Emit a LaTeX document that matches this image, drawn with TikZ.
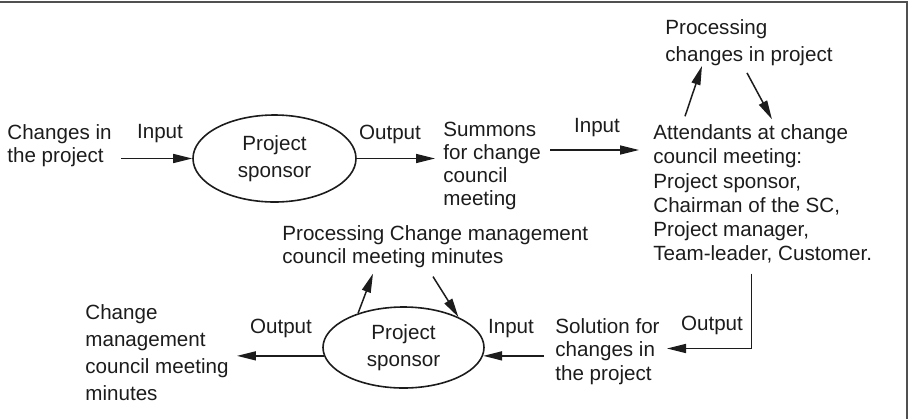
\documentclass[tikz,border=0pt]{standalone}
\usepackage{fontspec}
\setmainfont{Liberation Sans}
\usepackage{tikz}
\usetikzlibrary{arrows.meta,shapes.geometric,calc}
\definecolor{ink}{HTML}{1C1C1C}
\definecolor{rule}{HTML}{505050}
\tikzset{
 txt/.style={inner sep=0pt,align=left,text=ink,font=\fontsize{10.3}{11.6}\selectfont},
 txtloose/.style={txt,font=\fontsize{10.3}{13.4}\selectfont},
 proc/.style={ellipse,draw=ink,line width=0.8pt,inner sep=0pt,align=center,text=ink,font=\fontsize{10.3}{13.2}\selectfont},
 arr/.style={-{Triangle[length=9.5pt,width=4.5pt]},line width=0.75pt,draw=ink},
 frameline/.style={draw=rule,line width=1.4pt}}

\begin{document}
\begin{tikzpicture}[x=0.5pt,y=-0.5pt]
\useasboundingbox (0,0) rectangle (912,419);
\draw[frameline] (0,2) -- (907,2) -- (907,419);

\node[txt,anchor=west] (changes) at (7,145.5) {Changes in\\the project};
\node[txt] (in1) at (160,134) {Input};
\node[proc,minimum width=81.5pt,minimum height=43.5pt] (sponsor1) at (274.5,158.5) {Project\\sponsor};
\node[txt] (out1) at (390,134) {Output};
\node[txt,anchor=west] (summons) at (443,166) {Summons\\for change\\council\\meeting};
\node[txt] (in2) at (597,128) {Input};
\node[txt,anchor=west,font=\fontsize{10.3}{12.1}\selectfont] (attend) at (653,194) {Attendants at change\\council meeting:\\Project sponsor,\\Chairman of the SC,\\Project manager,\\Team-leader, Customer.};
\node[txtloose,anchor=west] (proc1) at (665,42.5) {Processing\\changes in project};

\node[txt,anchor=west] (proc2) at (282,247) {Processing Change management\\council meeting minutes};
\node[proc,minimum width=80.5pt,minimum height=40.5pt] (sponsor2) at (403.5,347.5) {Project\\sponsor};
\node[txt] (out2) at (281,328.5) {Output};
\node[txtloose,anchor=west] (minutes) at (85,352.5) {Change\\management\\council meeting\\minutes};
\node[txt] (in3) at (511,329) {Input};
\node[txt,anchor=west] (solution) at (555,351.5) {Solution for\\changes in\\the project};
\node[txt] (out3) at (712,325.5) {Output};

\draw[arr] ($(changes.east |- sponsor1.west)+(9,0)$) -- (sponsor1.west);
\draw[arr] (sponsor1.east) -- ($(sponsor1.east -| summons.west)+(-8,0)$);
\draw[arr] ($(summons.east)+(9,-16)$) -- ($(attend.west)+(-14,-44)$);
\draw[arr] ($(attend.north west)+(32,-8)$) -- ($(proc1.south west)+(37,0)$);
\draw[arr] ($(proc1.south west)+(82,7)$) -- ($(attend.north west)+(119,-5)$);
\draw[arr] ($(attend.south)+(-11,10)$) |- ($(solution.east)+(7,-3)$);
\draw[arr] ($(solution.west |- sponsor2.-6)+(-11,0)$) -- (sponsor2.-6);
\draw[arr] (sponsor2.186) -- ($(minutes.east |- sponsor2.186)+(8,0)$);
\draw[arr] (sponsor2.143) -- ($(proc2.south west)+(91,5)$);
\draw[arr] ($(proc2.south west)+(151,8)$) -- (sponsor2.29);
\end{tikzpicture}
\end{document}
